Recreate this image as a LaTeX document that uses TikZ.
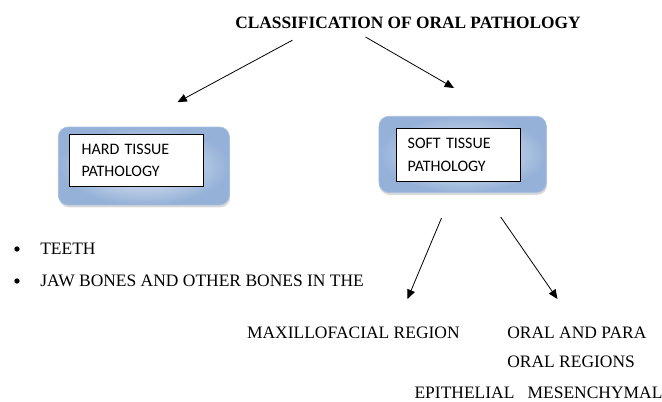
\documentclass[tikz,border=0pt]{standalone}
\usepackage{fontspec}
\setmainfont{Liberation Serif}
\newfontfamily\boxfont{Carlito}
\usepackage{tikz}
\usetikzlibrary{shapes,calc,arrows.meta,shadows}

\definecolor{boxblue}{HTML}{95B1D8}
\definecolor{boxlight}{HTML}{EEF3FA}
\definecolor{boxedge}{HTML}{A8BFDD}

\begin{document}
\begin{tikzpicture}[x=0.75pt, y=-0.75pt,
  txt/.style={inner sep=0pt, font=\fontsize{13.1}{15}\selectfont},
  puce/.style={circle, fill=black, inner sep=0pt, minimum size=4pt},
  outbox/.style={rectangle, rounded corners=7.5pt, draw=boxedge, line width=0.6pt,
    inner color=boxlight, outer color=boxblue, inner sep=0pt,
    drop shadow={shadow xshift=0.6pt, shadow yshift=-1.8pt, opacity=0.3}},
  inbox/.style={rectangle, draw=black, fill=white, line width=0.6pt, inner sep=0pt,
    align=left, font=\boxfont\fontsize{12}{16.6}\selectfont},
  fleche/.style={-{Triangle[length=7pt,width=6pt]}, line width=0.6pt}]
\useasboundingbox (0,0) rectangle (662,401);

  % titre
  \node[txt, anchor=base, font=\bfseries\fontsize{13}{15}\selectfont] (titre) at (408,28) {CLASSIFICATION OF ORAL PATHOLOGY};

  % boites
  \node[outbox, minimum width=128.3pt, minimum height=58.5pt] (hardout) at (143.85,166) {};
  \node[inbox, minimum width=100.4pt, minimum height=39pt, text width=82.6pt] (hard) at (136.65,160.5) {HARD TISSUE\\PATHOLOGY};
  \node[outbox, minimum width=125.5pt, minimum height=57.2pt] (softout) at (462.65,154.4) {};
  \node[inbox, minimum width=93.2pt, minimum height=39.2pt, text width=76.4pt] (soft) at (458.6,154.85) {SOFT TISSUE\\PATHOLOGY};

  % fleches
  \coordinate (a1) at (292.4,40.2);
  \coordinate (b1) at (177.5,102.2);
  \coordinate (a2) at (365.5,37);
  \coordinate (b2) at (454,88);
  \coordinate (a3) at (441.5,218);
  \coordinate (b3) at (407.5,299);
  \coordinate (a4) at (500.7,217);
  \coordinate (b4) at (557.5,299);
  \draw[fleche] (a1) -- (b1);
  \draw[fleche] (a2) -- (b2);
  \draw[fleche] (a3) -- (b3);
  \draw[fleche] (a4) -- (b4);

  % textes
  \node[puce] (puce1) at (17,249) {};
  \node[txt, anchor=base west] (dents) at (40,254.3) {TEETH};
  \node[puce] (puce2) at (17,281) {};
  \node[txt, anchor=base west] (os) at (40,286) {JAW BONES AND OTHER BONES IN THE};
  \node[txt, anchor=base east] (maxi) at (460,338.3) {MAXILLOFACIAL REGION};
  \node[txt, anchor=base west] (oral) at (507,338.3) {ORAL AND PARA};
  \node[txt, anchor=base west] (regions) at (507,367.3) {ORAL REGIONS};
  \node[txt, anchor=base west] (tissus) at (414.3,398.3) {EPITHELIAL\hspace{0.75em}MESENCHYMAL};

\end{tikzpicture}
\end{document}
